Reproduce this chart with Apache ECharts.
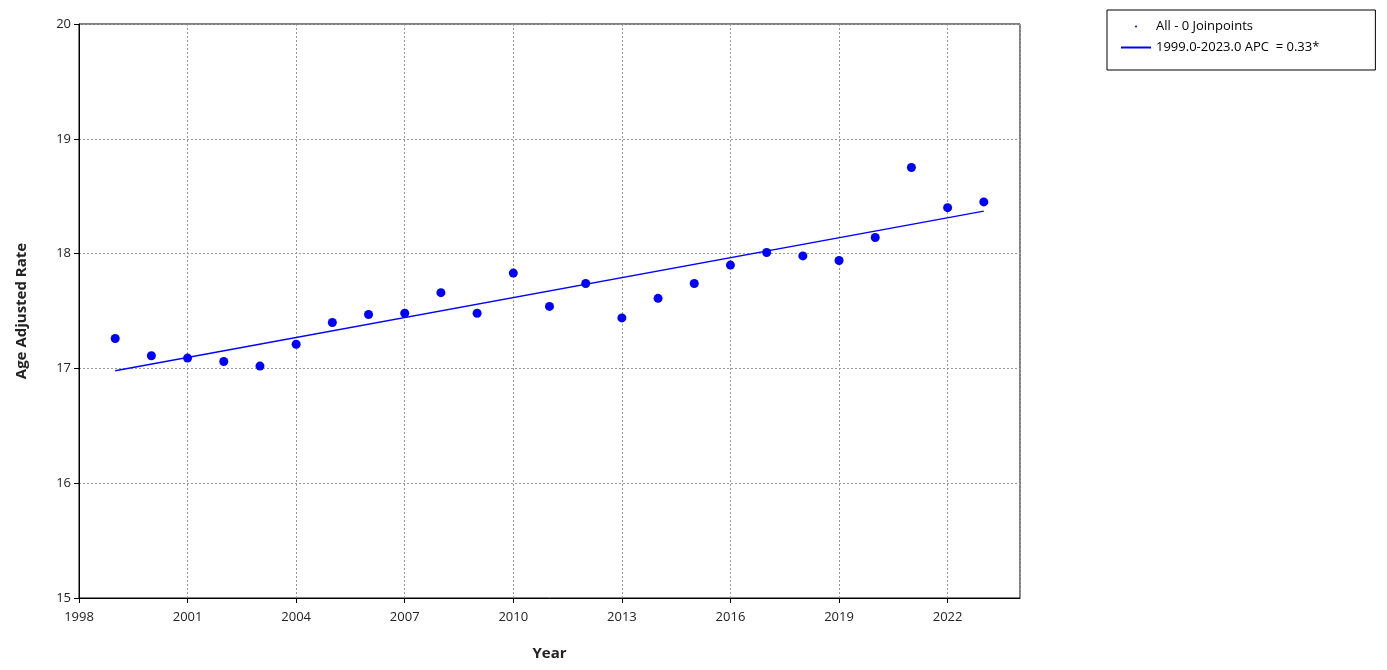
<!DOCTYPE html>
<html><head><meta charset="utf-8">
<script src="https://cdn.jsdelivr.net/npm/echarts@6/dist/echarts.min.js"></script>
<style>html,body{margin:0;background:#fff}#c{width:1387px;height:670px}</style>
</head><body><div id="c"></div>
<script>
const years = [1999,2000,2001,2002,2003,2004,2005,2006,2007,2008,2009,2010,2011,2012,2013,2014,2015,2016,2017,2018,2019,2020,2021,2022,2023];
const rates = [17.26,17.11,17.09,17.06,17.02,17.21,17.40,17.47,17.48,17.66,17.48,17.83,17.54,17.74,17.44,17.61,17.74,17.90,18.01,17.98,17.94,18.14,18.75,18.40,18.45];
const fitYears = [1999,2023];
const fitRates = [16.98,18.37];
const chart = echarts.init(document.getElementById('c'));
const font = 'Segoe UI, "Open Sans", "DejaVu Sans", sans-serif';
chart.setOption({
  animation:false,
  textStyle:{fontFamily:font},
  grid:{left:79,right:367,top:24,bottom:72,show:true,borderColor:'#000',borderWidth:1},
  legend:{orient:'vertical',left:1107,top:10,width:268,padding:[10,56,16,14],itemGap:8,
    borderColor:'#000',borderWidth:1,textStyle:{fontSize:13,color:'#000',fontFamily:font},
    data:[{name:'All - 0 Joinpoints',icon:'circle',itemStyle:{color:'#0000ff',opacity:1}},
          {name:'1999.0-2023.0 APC  = 0.33*',icon:'rect',itemStyle:{color:'#0000ff'}}],
    itemWidth:30,itemHeight:2},
  xAxis:{type:'value',min:1998,max:2024,interval:3,name:'Year',nameLocation:'middle',nameGap:48,
    nameTextStyle:{fontWeight:'bold',fontSize:15,color:'#222'},
    axisLine:{lineStyle:{color:'#000'}},axisTick:{show:true,lineStyle:{color:'#000'}},
    axisLabel:{color:'#222',fontSize:13,margin:13,showMaxLabel:false,formatter:v=>String(v)},
    splitLine:{show:true,lineStyle:{color:'#999',type:[2,2]}}},
  yAxis:{type:'value',min:15,max:20,interval:1,name:'Age Adjusted Rate',nameLocation:'middle',nameGap:50,
    nameTextStyle:{fontWeight:'bold',fontSize:15,color:'#222'},
    axisLine:{show:true,lineStyle:{color:'#000'}},axisTick:{show:true,lineStyle:{color:'#000'}},
    axisLabel:{color:'#222',fontSize:13,margin:8},
    splitLine:{show:true,lineStyle:{color:'#999',type:[2,2]}}},
  series:[
    {name:'All - 0 Joinpoints',type:'scatter',symbolSize:9,itemStyle:{color:'#0000ff',opacity:1},
     data:years.map((y,i)=>[y,rates[i]])},
    {name:'1999.0-2023.0 APC  = 0.33*',type:'line',showSymbol:false,lineStyle:{color:'#0000ff',width:1.5},
     itemStyle:{color:'#0000ff'},data:fitYears.map((y,i)=>[y,fitRates[i]])}
  ]
});
</script></body></html>
